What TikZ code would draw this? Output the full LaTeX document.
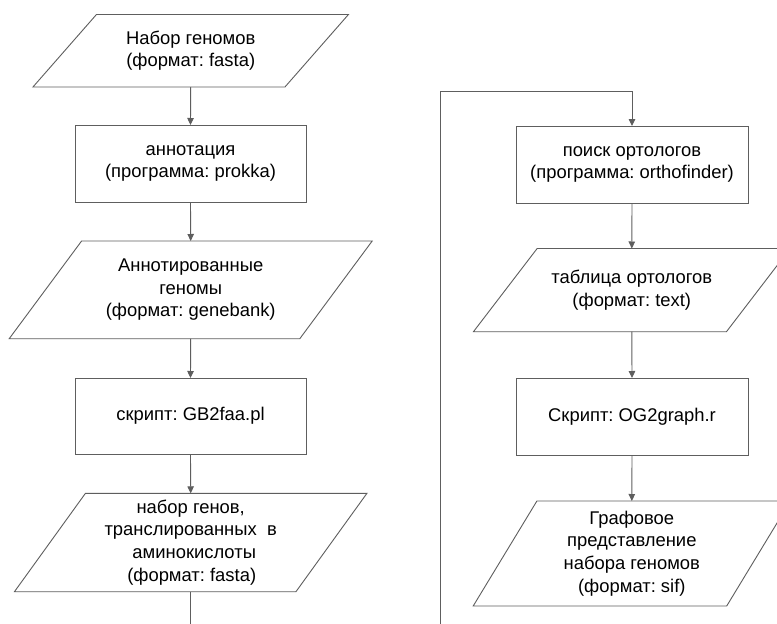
\documentclass[tikz,border=0pt]{standalone}
\usepackage{fontspec}
\setmainfont{Liberation Sans}
\frenchspacing
\usetikzlibrary{arrows.meta,calc}
\definecolor{linegray}{HTML}{5E5E5E}
\tikzset{
  ln/.style={draw=linegray, line width=0.9pt},
  arr/.style={ln, -{Triangle[length=7pt,width=6.5pt]}},
  txt/.style={font=\fontsize{18.4}{22.7}\selectfont\frenchspacing, align=center, text=black, inner sep=0pt, outer sep=0pt},
  procbox/.style={txt, ln, rectangle},
  parabody/.style={txt, rectangle}
}
\newcommand\paradraw[2]{%
  \draw[ln] ($(#1.north west)+(#2,0)$) -- ($(#1.north east)+(#2,0)$)
    -- ($(#1.south east)+(-#2,0)$) -- ($(#1.south west)+(-#2,0)$) -- cycle;}
\begin{document}
\begin{tikzpicture}[x=1pt,y=-1pt]
\fill[white] (0,0) rectangle (777,624);
\path[use as bounding box, clip] (0,0) rectangle (777,624);

% left column
\node[parabody, minimum width=252pt, minimum height=72.5pt] (p1) at (190.7,50.75)
  {Набор геномов\\(формат: fasta)};
\paradraw{p1}{31.75}
\node[procbox, minimum width=231pt, minimum height=77pt] (b1) at (190.5,163.5)
  {аннотация\\(программа: prokka)};
\node[parabody, minimum width=290.6pt, minimum height=97.7pt] (p2) at (190.7,289.85)
  {Аннотированные\\геномы\\(формат: genebank)};
\paradraw{p2}{36.2}
\node[procbox, minimum width=231pt, minimum height=76pt] (b2) at (190.5,416)
  {скрипт: GB2faa.pl};
\node[parabody, minimum width=281.5pt, minimum height=98.4pt] (p3) at (190.7,542.5)
  {набор генов,\\транслированных\ \ в\\\hspace*{7pt}аминокислоты\\\hspace*{2pt}(формат: fasta)};
\paradraw{p3}{35.5}
\coordinate (endL) at (190.7,640);

% right column
\node[procbox, minimum width=232pt, minimum height=77pt] (b3) at (632,164.5)
  {поиск ортологов\\(программа: orthofinder)};
\node[parabody, minimum width=253pt, minimum height=83.2pt] (p4) at (631.8,290.1)
  {таблица ортологов\\(формат: text)};
\paradraw{p4}{31.85}
\node[procbox, minimum width=232pt, minimum height=77pt] (b4) at (632,416.5)
  {Скрипт: OG2graph.r};
\node[parabody, minimum width=253.5pt, minimum height=105pt] (p5) at (631.8,553.5)
  {Графовое\\представление\\набора геномов\\(формат: sif)};
\paradraw{p5}{31.85}
\coordinate (loopB) at (440.7,640);
\coordinate (loopT) at (440.7,91);

% connectors
\draw[arr] (p1.south) -- (b1.north);
\draw[arr] (b1.south) -- (p2.north);
\draw[arr] (p2.south) -- (b2.north);
\draw[arr] (b2.south) -- (p3.north);
\draw[ln] (p3.south) -- (endL);
\draw[arr] (loopB) -- (loopT) -| (b3.north);
\draw[arr] (b3.south) -- (p4.north);
\draw[arr] (p4.south) -- (b4.north);
\draw[arr] (b4.south) -- (p5.north);
\end{tikzpicture}
\end{document}
